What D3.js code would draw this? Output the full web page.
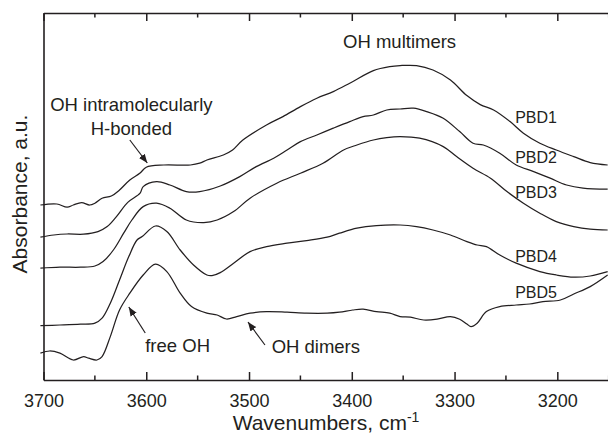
<!DOCTYPE html>
<html>
<head>
<meta charset="utf-8">
<script src="https://cdn.jsdelivr.net/npm/d3@7"></script>
<style>
  html, body { margin: 0; padding: 0; background: #fff; }
  svg { display: block; font-family: "Liberation Sans", Arial, Helvetica, sans-serif; }
</style>
</head>
<body>
<svg id="chart" width="608" height="434"></svg>
<script>
// FTIR spectra of the OH-stretching region, stacked with vertical offsets (a.u.)
const wavenumbers1 = [3703, 3687, 3677, 3671, 3663, 3655, 3650, 3643, 3634, 3626, 3616, 3606, 3600, 3583, 3557, 3548, 3541, 3525, 3516, 3506, 3483, 3467, 3450, 3434, 3418, 3402, 3379, 3363, 3353, 3337, 3321, 3304, 3288, 3275, 3262, 3246, 3233, 3217, 3201, 3184, 3168, 3151];
const pbd1 = [0.875, 0.880, 0.864, 0.875, 0.887, 0.875, 0.884, 0.909, 0.920, 0.950, 1.000, 1.035, 1.064, 1.075, 1.075, 1.084, 1.100, 1.125, 1.150, 1.200, 1.275, 1.317, 1.367, 1.409, 1.442, 1.484, 1.547, 1.567, 1.572, 1.572, 1.550, 1.500, 1.422, 1.377, 1.350, 1.292, 1.234, 1.184, 1.150, 1.117, 1.087, 1.075];

const wavenumbers2 = [3703, 3690, 3677, 3661, 3647, 3638, 3629, 3618, 3606, 3603, 3590, 3577, 3561, 3548, 3528, 3509, 3493, 3476, 3463, 3450, 3434, 3418, 3402, 3389, 3379, 3366, 3353, 3340, 3327, 3311, 3295, 3282, 3272, 3256, 3240, 3223, 3207, 3191, 3175, 3151];
const pbd2 = [0.714, 0.725, 0.730, 0.729, 0.742, 0.767, 0.817, 0.888, 0.934, 0.967, 0.992, 0.975, 0.942, 0.942, 0.970, 1.017, 1.067, 1.109, 1.150, 1.192, 1.225, 1.259, 1.292, 1.317, 1.325, 1.350, 1.355, 1.359, 1.342, 1.309, 1.242, 1.184, 1.175, 1.134, 1.075, 1.042, 1.009, 0.975, 0.959, 0.954];

const wavenumbers3 = [3703, 3684, 3664, 3650, 3642, 3632, 3622, 3614, 3603, 3590, 3577, 3561, 3544, 3531, 3515, 3499, 3473, 3450, 3428, 3408, 3395, 3379, 3366, 3353, 3334, 3311, 3298, 3282, 3265, 3249, 3233, 3217, 3201, 3184, 3168, 3151];
const pbd3 = [0.559, 0.564, 0.564, 0.570, 0.592, 0.650, 0.734, 0.800, 0.867, 0.884, 0.859, 0.800, 0.787, 0.800, 0.842, 0.909, 0.984, 1.034, 1.084, 1.150, 1.175, 1.200, 1.212, 1.217, 1.209, 1.167, 1.117, 1.059, 1.009, 0.942, 0.884, 0.834, 0.792, 0.767, 0.754, 0.750];

const wavenumbers4 = [3703, 3684, 3664, 3650, 3643, 3635, 3626, 3617, 3609, 3604, 3591, 3580, 3567, 3554, 3541, 3536, 3528, 3515, 3499, 3483, 3463, 3444, 3424, 3412, 3395, 3376, 3353, 3337, 3321, 3304, 3288, 3278, 3269, 3256, 3240, 3217, 3201, 3184, 3168, 3151];
const pbd4 = [0.272, 0.275, 0.279, 0.284, 0.309, 0.384, 0.500, 0.617, 0.700, 0.717, 0.770, 0.742, 0.650, 0.575, 0.525, 0.522, 0.537, 0.584, 0.642, 0.667, 0.684, 0.697, 0.714, 0.734, 0.759, 0.772, 0.775, 0.767, 0.750, 0.725, 0.692, 0.675, 0.667, 0.625, 0.584, 0.542, 0.525, 0.514, 0.520, 0.542];

const wavenumbers5 = [3703, 3694, 3684, 3671, 3661, 3656, 3648, 3643, 3635, 3626, 3616, 3603, 3591, 3580, 3567, 3556, 3541, 3531, 3522, 3512, 3499, 3483, 3463, 3444, 3424, 3412, 3399, 3389, 3376, 3363, 3353, 3343, 3330, 3317, 3304, 3295, 3288, 3284, 3278, 3269, 3256, 3240, 3227, 3214, 3197, 3184, 3168, 3151];
const pbd5 = [0.134, 0.145, 0.134, 0.100, 0.117, 0.109, 0.100, 0.117, 0.217, 0.350, 0.434, 0.525, 0.579, 0.542, 0.434, 0.367, 0.334, 0.325, 0.305, 0.317, 0.334, 0.342, 0.339, 0.334, 0.334, 0.339, 0.350, 0.354, 0.342, 0.334, 0.317, 0.314, 0.300, 0.304, 0.317, 0.304, 0.280, 0.267, 0.284, 0.342, 0.367, 0.375, 0.380, 0.392, 0.400, 0.430, 0.467, 0.525];

const seriesNames = ["PBD1", "PBD2", "PBD3", "PBD4", "PBD5"];
const seriesX = [wavenumbers1, wavenumbers2, wavenumbers3, wavenumbers4, wavenumbers5];
const seriesY = [pbd1, pbd2, pbd3, pbd4, pbd5];
// where each spectrum's name is written (wavenumber, absorbance of the baseline)
const labelX = [3241, 3241, 3241, 3241, 3241];
const labelY = [1.283, 1.083, 0.91, 0.592, 0.412];

const tickValues = [3700, 3600, 3500, 3400, 3300, 3200];
const minorTickValues = [3650, 3550, 3450, 3350, 3250, 3150];

const svg = d3.select("#chart");
const plotLeft = 43.5, plotRight = 608.7, plotTop = 13, plotBottom = 380;

const x = d3.scaleLinear().domain([3700, 3150]).range([plotLeft, plotRight]);
const y = d3.scaleLinear().domain([0, 1.835]).range([plotBottom, plotTop]);

const ink = "#231f20";

// spectra
const line = d3.line()
  .x(d => x(d[0]))
  .y(d => y(d[1]))
  .curve(d3.curveCatmullRom.alpha(0.5));

seriesNames.forEach((name, i) => {
  const pts = seriesX[i].map((w, j) => [w, seriesY[i][j]]);
  svg.append("path")
    .datum(pts)
    .attr("fill", "none")
    .attr("stroke", ink)
    .attr("stroke-width", 1.25)
    .attr("stroke-linejoin", "round")
    .attr("d", line);
  svg.append("text")
    .attr("x", x(labelX[i]))
    .attr("y", y(labelY[i]))
    .attr("font-size", 16)
    .attr("fill", ink)
    .text(name);
});

// axes: ticks pointing into the frame
const gBottom = svg.append("g").attr("transform", `translate(0,${plotBottom})`);
gBottom.call(d3.axisBottom(x).tickValues(tickValues).tickSize(-8).tickSizeOuter(0).tickPadding(14).tickFormat(d3.format("d")));
gBottom.call(g => g.selectAll(".minor").data(minorTickValues).join("line")
  .attr("class", "minor").attr("x1", d => x(d)).attr("x2", d => x(d))
  .attr("y1", 0).attr("y2", -4.5).attr("stroke", ink).attr("stroke-width", 1.5));

const gTop = svg.append("g").attr("transform", `translate(0,${plotTop})`);
gTop.call(d3.axisTop(x).tickValues(tickValues).tickSize(-8).tickSizeOuter(0).tickFormat(""));
gTop.call(g => g.selectAll(".minor").data(minorTickValues).join("line")
  .attr("class", "minor").attr("x1", d => x(d)).attr("x2", d => x(d))
  .attr("y1", 0).attr("y2", 4.5).attr("stroke", ink).attr("stroke-width", 1.5));

const gLeft = svg.append("g").attr("transform", `translate(${plotLeft},0)`);
gLeft.call(d3.axisLeft(y).tickValues([]).tickSizeOuter(0));

[gBottom, gTop, gLeft].forEach(g => {
  g.select(".domain").attr("stroke", ink).attr("stroke-width", 1.6);
  g.selectAll(".tick line").attr("stroke", ink).attr("stroke-width", 1.5);
  g.selectAll(".tick text").attr("font-size", 18).attr("fill", ink)
    .attr("font-family", "'Liberation Sans', Arial, sans-serif");
});

// axis titles
const xTitle = svg.append("text")
  .attr("x", 326).attr("y", 430)
  .attr("text-anchor", "middle")
  .attr("font-size", 21).attr("fill", ink);
xTitle.append("tspan").text("Wavenumbers, cm");
xTitle.append("tspan").attr("dy", -8).attr("font-size", 14).text("-1");

svg.append("text")
  .attr("transform", "translate(27,194) rotate(-90)")
  .attr("text-anchor", "middle")
  .attr("font-size", 21).attr("fill", ink)
  .text("Absorbance, a.u.");

// band annotations
const notes = [
  { text: "OH multimers", w: 3408.5, a: 1.66, anchor: "start" },
  { text: "OH intramolecularly", w: 3614.5, a: 1.345, anchor: "middle" },
  { text: "H-bonded", w: 3614.5, a: 1.225, anchor: "middle" },
  { text: "free OH", w: 3601, a: 0.14, anchor: "start" },
  { text: "OH dimers", w: 3478, a: 0.135, anchor: "start" }
];
notes.forEach(n => {
  svg.append("text")
    .attr("x", x(n.w)).attr("y", y(n.a))
    .attr("text-anchor", n.anchor)
    .attr("font-size", 18.5).attr("fill", ink)
    .text(n.text);
});

svg.append("defs").append("marker")
  .attr("id", "head")
  .attr("viewBox", "0 0 10 10")
  .attr("refX", 10).attr("refY", 5)
  .attr("markerWidth", 9).attr("markerHeight", 9)
  .attr("markerUnits", "userSpaceOnUse")
  .attr("orient", "auto")
  .append("path")
  .attr("d", "M0,1 L10,5 L0,9 Z")
  .attr("fill", ink);

const arrows = [
  { w0: 3616, a0: 1.20, w1: 3599, a1: 1.085 },
  { w0: 3601, a0: 0.235, w1: 3617, a1: 0.365 },
  { w0: 3484.5, a0: 0.175, w1: 3501, a1: 0.29 }
];
arrows.forEach(r => {
  svg.append("line")
    .attr("x1", x(r.w0)).attr("y1", y(r.a0))
    .attr("x2", x(r.w1)).attr("y2", y(r.a1))
    .attr("stroke", ink).attr("stroke-width", 1.2)
    .attr("marker-end", "url(#head)");
});
</script>
</body>
</html>
